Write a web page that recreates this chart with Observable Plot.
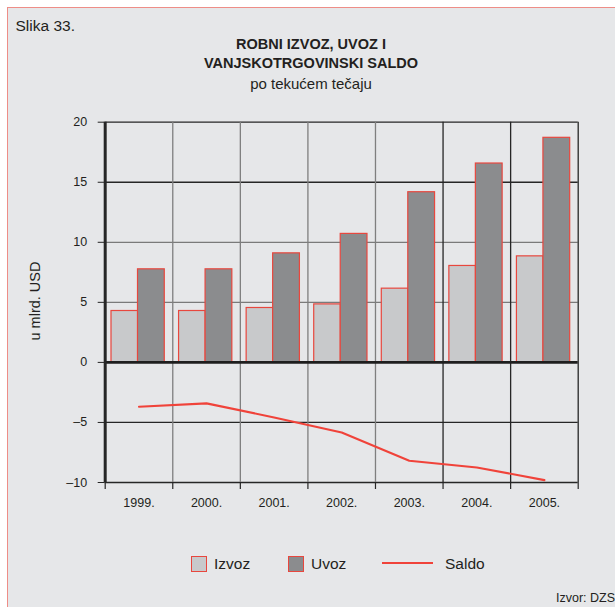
<!DOCTYPE html>
<html>
<head>
<meta charset="utf-8">
<script src="https://cdn.jsdelivr.net/npm/d3@7"></script>
<script src="https://cdn.jsdelivr.net/npm/@observablehq/plot@0.6"></script>
<style>
  html, body { margin: 0; padding: 0; background: #ffffff; width: 615px; height: 607px; overflow: hidden; }
  body { position: relative; font-family: "Liberation Sans", Arial, sans-serif; color: #231f20; }
  #panel { position: absolute; left: 7px; top: 7px; width: 640px; height: 640px; background: #e6e7e9;
           border-left: 1.6px solid #ee8d87; border-top: 1.6px solid #ee8d87; }
  .abs { position: absolute; white-space: nowrap; }
  #slika { left: 15.5px; top: 16.5px; font-size: 15.5px; }
  .title { left: 0; width: 622px; text-align: center; font-size: 14.5px; }
  #t1 { top: 36px; font-weight: bold; }
  #t2 { top: 55px; font-weight: bold; }
  #t3 { top: 75px; font-size: 15px; }
  #ylab { left: 35px; top: 301px; font-size: 14.5px; transform: translate(-50%, -50%) rotate(-90deg); }
  #chart { position: absolute; left: 0; top: 100px; }
  .sw { position: absolute; width: 14px; height: 14px; border: 1.2px solid #e8473e; top: 556px; }
  .lt { position: absolute; font-size: 15.5px; top: 555px; }
  #source { right: 0; top: 591px; font-size: 12.5px; }
</style>
</head>
<body>
<div id="panel"></div>
<div class="abs" id="slika">Slika 33.</div>
<div class="abs title" id="t1">ROBNI IZVOZ, UVOZ I</div>
<div class="abs title" id="t2">VANJSKOTRGOVINSKI SALDO</div>
<div class="abs title" id="t3">po tekućem tečaju</div>
<div class="abs" id="ylab">u mlrd. USD</div>
<div id="chart"></div>
<div class="sw" style="left:191px;background:#c8c9cb"></div>
<div class="lt" style="left:214px">Izvoz</div>
<div class="sw" style="left:288px;background:#8b8c8e"></div>
<div class="lt" style="left:311px">Uvoz</div>
<div style="position:absolute;left:382px;top:562px;width:51px;height:2px;background:#f0433a"></div>
<div class="lt" style="left:445px">Saldo</div>
<div class="abs" id="source">Izvor: DZS</div>
<script>
const years = ["1999.", "2000.", "2001.", "2002.", "2003.", "2004.", "2005."];
const izvoz = [4.28, 4.28, 4.53, 4.83, 6.14, 8.03, 8.83];
const uvoz = [7.75, 7.75, 9.08, 10.7, 14.17, 16.56, 18.7];
const saldo = [-3.69, -3.41, -4.58, -5.83, -8.19, -8.75, -9.8];
const yTicks = [-10, -5, 0, 5, 10, 15, 20];

const idx = years.map((_, i) => i);
const bounds = d3.range(0, years.length + 1);
const centers = idx.map(i => i + 0.5);
const izData = idx.map(i => ({i, v: izvoz[i]}));
const uvData = idx.map(i => ({i, v: uvoz[i]}));
const saData = idx.map(i => ({i, v: saldo[i]}));

const hColor = v => (v === 5 || v === 10) ? "#7a7a7a" : "#262626";
const vColor = v => (v >= 1 && v <= 4) ? "#7f7f7f" : "#262626";

const chart = Plot.plot({
  width: 615,
  height: 430,
  marginLeft: 104.7,
  marginRight: 37.3,
  marginTop: 21.7,
  marginBottom: 48,
  style: {background: "transparent", fontFamily: "Liberation Sans, Arial, sans-serif", fontSize: "12.5px", color: "#231f20", overflow: "visible"},
  x: {type: "linear", domain: [0, years.length], axis: null, label: null},
  y: {domain: [-10, 20], axis: null, label: null},
  marks: [
    Plot.ruleY(yTicks.filter(v => v !== 0), {y: d => d, stroke: hColor, strokeWidth: 1.3}),
    Plot.ruleX(bounds.filter(v => v > 0), {x: d => d, stroke: vColor, strokeWidth: 1.3}),
    Plot.axisX(bounds, {tickSize: 7, tickFormat: () => "", stroke: "#262626", strokeWidth: 1.2, label: null}),
    Plot.axisX(centers, {tickSize: 0, tickPadding: 16, tickFormat: d => years[Math.round(d - 0.5)], fontSize: 12.5, label: null}),
    Plot.axisY(yTicks, {tickSize: 7, tickPadding: 11, stroke: "#262626", fontSize: 12.5, label: null,
      tickFormat: d => d < 0 ? "\u2013" + (-d) : String(d)}),
    Plot.rectY(izData, {x1: d => d.i, x2: d => d.i + 1, y: "v", insetLeft: 6.3, insetRight: 34.7,
      fill: "#c8c9cb", stroke: "#e8473e", strokeWidth: 1.2}),
    Plot.rectY(uvData, {x1: d => d.i, x2: d => d.i + 1, y: "v", insetLeft: 32.8, insetRight: 8,
      fill: "#8b8c8e", stroke: "#e8473e", strokeWidth: 1.2}),
    Plot.ruleY([0], {stroke: "#1e1e1e", strokeWidth: 2.6}),
    Plot.ruleX([0], {stroke: "#262626", strokeWidth: 3, y1: -10, y2: 20}),
    Plot.line(saData, {x: d => d.i + 0.5, y: "v", stroke: "#f0433a", strokeWidth: 2.1})
  ]
});
document.getElementById("chart").appendChild(chart);
</script>
</body>
</html>
